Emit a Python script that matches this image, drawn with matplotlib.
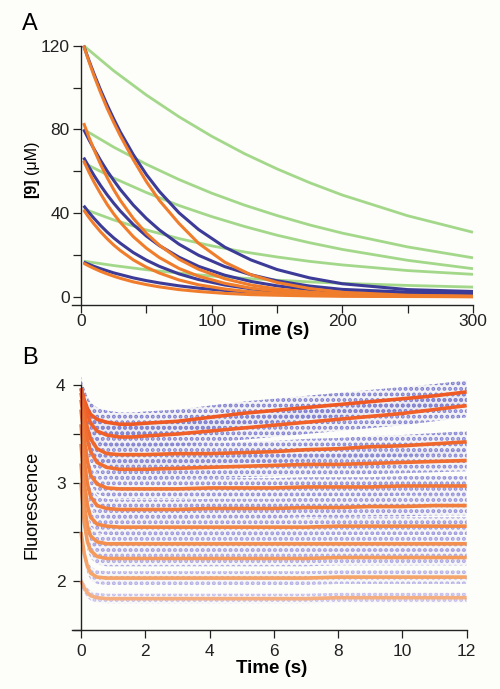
import matplotlib
matplotlib.use('Agg')
import matplotlib.pyplot as plt
from matplotlib.ticker import MultipleLocator

plt.rcParams['font.family'] = ['Liberation Sans', 'DejaVu Sans']
plt.rcParams['hatch.linewidth'] = 1.9

# ---------------- Panel A: [9] decay curves ----------------
# slow (green) curves
t_slow = [2, 25, 50, 75, 100, 125, 150, 175, 200, 250, 300]
green_120 = [120, 108.0, 96.4, 86.0, 76.7, 68.4, 61.1, 54.5, 48.6, 38.7, 30.8]
green_80 = [80, 71.5, 63.3, 56.0, 49.5, 43.8, 38.8, 34.3, 30.4, 23.8, 18.6]
green_64 = [64, 56.7, 49.8, 43.6, 38.3, 33.6, 29.4, 25.8, 22.6, 17.4, 13.4]
green_42 = [42, 36.7, 31.9, 27.8, 24.3, 21.4, 19.0, 16.9, 15.2, 12.5, 10.7]
green_17 = [17, 14.9, 12.9, 11.3, 9.9, 8.8, 7.9, 7.1, 6.4, 5.4, 4.6]

# fast (blue and orange) curves
t_fast = [2, 6, 10, 15, 20, 25, 30, 40, 50, 60, 75, 90, 110, 130, 150, 175, 200, 250, 300]
blue_120 = [120, 113.0, 106.4, 98.7, 91.6, 85.0, 78.8, 67.9, 58.4, 50.3, 40.1, 32.1, 23.7, 17.6, 13.0, 9.0, 6.2, 3.4, 2.5]
blue_80 = [80, 75.1, 70.5, 65.1, 60.1, 55.6, 51.3, 43.8, 37.4, 31.9, 25.1, 19.8, 14.4, 10.5, 7.6, 5.1, 3.5, 2.2, 1.6]
blue_66 = [66.5, 62.1, 57.9, 53.1, 48.7, 44.7, 41.0, 34.5, 29.0, 24.4, 18.9, 14.5, 10.3, 7.3, 5.2, 3.4, 2.2, 1.2, 0.8]
blue_43 = [43.5, 40.3, 37.4, 34.0, 30.9, 28.1, 25.6, 21.1, 17.5, 14.5, 10.9, 8.2, 5.6, 3.8, 2.6, 1.6, 1.0, 0.5, 0.3]
blue_16 = [16.5, 15.5, 14.5, 13.4, 12.4, 11.4, 10.6, 9.0, 7.7, 6.6, 5.2, 4.1, 3.0, 2.2, 1.6, 1.05, 0.7, 0.3, 0.15]

orange_120 = [120, 112.5, 105.5, 97.5, 90, 83.3, 77, 65.5, 55, 46, 35, 25.5, 16.5, 10.5, 6.8, 3.9, 2.1, 0.7, 0.2]
orange_83 = [83, 76.3, 70.2, 63.2, 56.9, 51.2, 46.1, 37.4, 30.3, 24.6, 17.9, 13.1, 8.6, 5.6, 3.7, 2.2, 1.3, 0.5, 0.2]
orange_65 = [65, 59.6, 54.7, 49.2, 44.1, 39.6, 35.6, 28.7, 23.2, 18.7, 13.5, 9.8, 6.4, 4.1, 2.7, 1.6, 0.9, 0.3, 0.1]
orange_41 = [41.5, 37.9, 34.7, 31.0, 27.7, 24.7, 22.1, 17.6, 14.1, 11.3, 8.0, 5.7, 3.7, 2.3, 1.5, 0.85, 0.5, 0.2, 0.05]
orange_16 = [16, 14.7, 13.5, 12.1, 10.9, 9.8, 8.8, 7.1, 5.8, 4.7, 3.4, 2.5, 1.6, 1.0, 0.7, 0.4, 0.2, 0.1, 0.0]

# ---------------- Panel B: fluorescence traces ----------------
t_b = [0, 0.1, 0.2, 0.3, 0.5, 0.8, 1.2, 1.6, 2, 3, 4, 5, 6, 7, 8, 9, 10, 11, 12]
fit_1 = [3.97, 3.85, 3.76, 3.70, 3.65, 3.62, 3.60, 3.60, 3.61, 3.63, 3.67, 3.71, 3.74, 3.77, 3.80, 3.83, 3.86, 3.89, 3.93]
fit_2 = [3.96, 3.82, 3.70, 3.61, 3.53, 3.49, 3.47, 3.47, 3.48, 3.50, 3.53, 3.56, 3.59, 3.62, 3.65, 3.68, 3.71, 3.75, 3.79]
fit_3 = [3.92, 3.72, 3.56, 3.45, 3.35, 3.30, 3.29, 3.29, 3.29, 3.30, 3.30, 3.31, 3.32, 3.34, 3.35, 3.37, 3.38, 3.40, 3.42]
fit_4 = [3.85, 3.62, 3.44, 3.32, 3.21, 3.16, 3.14, 3.14, 3.14, 3.15, 3.16, 3.17, 3.18, 3.19, 3.19, 3.20, 3.21, 3.22, 3.23]
fit_5 = [3.75, 3.45, 3.22, 3.08, 2.99, 2.95, 2.94, 2.94, 2.94, 2.94, 2.95, 2.95, 2.95, 2.96, 2.96, 2.96, 2.97, 2.97, 2.97]
fit_6 = [3.60, 3.23, 2.99, 2.86, 2.77, 2.74, 2.73, 2.73, 2.73, 2.73, 2.74, 2.74, 2.74, 2.75, 2.75, 2.76, 2.76, 2.77, 2.77]
fit_7 = [3.40, 3.00, 2.77, 2.65, 2.58, 2.56, 2.55, 2.55, 2.55, 2.55, 2.55, 2.55, 2.55, 2.55, 2.56, 2.56, 2.56, 2.56, 2.56]
fit_8 = [3.20, 2.78, 2.56, 2.46, 2.40, 2.38, 2.38, 2.38, 2.38, 2.38, 2.38, 2.38, 2.38, 2.38, 2.38, 2.38, 2.38, 2.38, 2.38]
fit_9 = [3.00, 2.60, 2.40, 2.31, 2.25, 2.23, 2.23, 2.23, 2.23, 2.23, 2.23, 2.23, 2.23, 2.23, 2.24, 2.24, 2.24, 2.24, 2.24]
fit_10 = [2.50, 2.28, 2.15, 2.08, 2.04, 2.03, 2.03, 2.03, 2.03, 2.03, 2.03, 2.03, 2.03, 2.03, 2.04, 2.04, 2.04, 2.04, 2.04]
fit_11 = [2.00, 1.93, 1.88, 1.85, 1.83, 1.82, 1.82, 1.82, 1.82, 1.82, 1.82, 1.82, 1.82, 1.82, 1.83, 1.83, 1.83, 1.83, 1.83]
# approximate half-width of the scattered raw data around each fit
scatter_spread = [0.12, 0.12, 0.11, 0.11, 0.10, 0.10, 0.09, 0.08, 0.08, 0.07, 0.05]

# colours
green = '#a3d88a'
blue = '#3c3b98'
orange = '#f07d2c'
fit_colors = ['#ef5a24', '#f06028', '#f0672b', '#f16e30', '#f27636', '#f27e3e',
              '#f38746', '#f3904f', '#f49a5c', '#f5a46a', '#f5ae80']
dot_colors = ['#7f7fd0', '#8282d2', '#8686d4', '#8a8ad6', '#8f8dd8', '#9591da',
              '#9b97dd', '#a29ee0', '#aaa6e3', '#b3afe7', '#c2bdec']

fig = plt.figure(figsize=(5, 6.89), dpi=100, facecolor='#fdfdf9')


def style_axes(ax, xlim, ylim, xbounds, ybounds):
    ax.set_facecolor('none')
    ax.set_xlim(*xlim)
    ax.set_ylim(*ylim)
    ax.spines['top'].set_visible(False)
    ax.spines['right'].set_visible(False)
    ax.spines['left'].set_position(('data', 0))
    ax.spines['left'].set_bounds(*ybounds)
    ax.spines['bottom'].set_bounds(*xbounds)
    for s in ('left', 'bottom'):
        ax.spines[s].set_linewidth(1.0)
        ax.spines[s].set_color('#222222')
    ax.tick_params(which='both', direction='out', length=6, width=0.9,
                   color='#222222', labelsize=12.5, labelcolor='#222222')


# ---- Panel A ----
axA = fig.add_axes([0.1438, 0.5572, 0.8074, 0.3826])
style_axes(axA, (-7, 302), (-4, 122), (-7, 300), (-4, 120))
axA.tick_params(axis='y', pad=2)
axA.tick_params(axis='x', pad=0.5)

for vals in [green_120, green_80, green_64, green_42, green_17]:
    axA.plot(t_slow, vals, color=green, lw=2.0, solid_capstyle='butt')
for vals in [blue_120, blue_80, blue_66, blue_43, blue_16]:
    axA.plot(t_fast, vals, color=blue, lw=2.2, solid_capstyle='butt')
for vals in [orange_120, orange_83, orange_65, orange_41, orange_16]:
    axA.plot(t_fast, vals, color=orange, lw=2.2, solid_capstyle='butt')

axA.set_xticks([0, 100, 200, 300])
axA.xaxis.set_minor_locator(MultipleLocator(50))
axA.set_yticks([0, 40, 80, 120])
axA.yaxis.set_minor_locator(MultipleLocator(20))
axA.set_xlabel('Time (s)', fontsize=13.5, fontweight='bold', labelpad=-5)

fig.text(32 / 500, 1 - 188 / 689, '[9]', rotation=90, fontsize=11.5,
         fontweight='bold', ha='center', va='center')
fig.text(32 / 500, 1 - 157 / 689, '(\u03bcM)', rotation=90, fontsize=11.5,
         ha='center', va='center')
fig.text(0.044, 1 - 13 / 689, 'A', fontsize=17, ha='left', va='top')

# ---- Panel B ----
axB = fig.add_axes([0.144, 0.0856, 0.799, 0.3698])
style_axes(axB, (-0.28, 12.15), (1.5, 4.1), (-0.28, 12), (1.5, 4))
axB.tick_params(axis='y', pad=5)
axB.tick_params(axis='x', pad=4)

fits = [fit_1, fit_2, fit_3, fit_4, fit_5, fit_6, fit_7, fit_8, fit_9, fit_10, fit_11]
# raw data clouds shown as speckled bands around each fit
for vals, sp, dc in zip(fits, scatter_spread, dot_colors):
    lo = [v - sp for v in vals]
    hi = [v + sp for v in vals]
    axB.fill_between(t_b, lo, hi, facecolor=dc, alpha=0.08, linewidth=0)
    axB.fill_between(t_b, lo, hi, facecolor='none', edgecolor=dc,
                     hatch='...', linewidth=0)
for vals, fc in zip(fits, fit_colors):
    axB.plot(t_b, vals, color=fc, lw=2.6, solid_capstyle='butt')

axB.set_xticks(range(0, 13, 2))
axB.set_yticks([2, 3, 4])
axB.yaxis.set_minor_locator(MultipleLocator(0.5))
axB.set_xlabel('Time (s)', fontsize=13.5, fontweight='bold', labelpad=1)
fig.text(32 / 500, 1 - 505 / 689, 'Fluorescence', rotation=90, fontsize=13,
         ha='center', va='center')
fig.text(0.044, 1 - 347 / 689, 'B', fontsize=17, ha='left', va='top')

fig.savefig('out.png', dpi=100, facecolor=fig.get_facecolor())
